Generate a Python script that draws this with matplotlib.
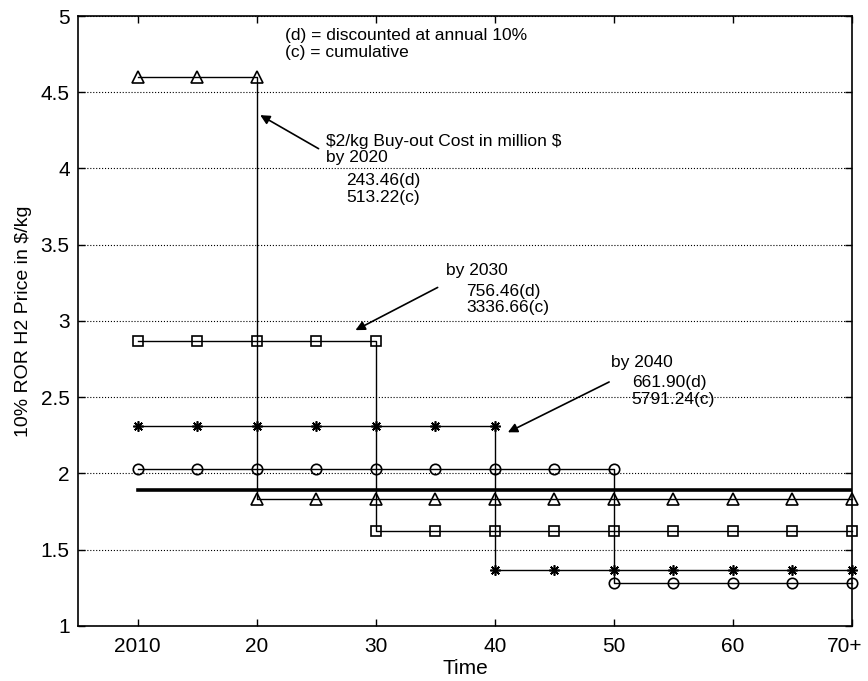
import matplotlib
matplotlib.use("Agg")
import matplotlib.pyplot as plt
import matplotlib.transforms as mtransforms
import numpy as np

plt.rcParams['font.family'] = ['Liberation Sans', 'DejaVu Sans']
plt.rcParams['text.parse_math'] = False

# Data
years = [2010, 2015, 2020, 2025, 2030, 2035, 2040, 2045, 2050, 2055, 2060, 2065, 2070]
buyout_years = [2020, 2030, 2040, 2050]
price_before = [4.60, 2.87, 2.31, 2.03]
price_after = [1.83, 1.62, 1.37, 1.28]
markers = ['^', 's', (8, 2, 0), 'o']
baseline_price = 1.89
xtick_pos = [2010, 2020, 2030, 2040, 2050, 2060, 2070]
xtick_labels = ['2010', '20', '30', '40', '50', '60', '70+']
ytick_pos = [1, 1.5, 2, 2.5, 3, 3.5, 4, 4.5, 5]
ytick_labels = ['1', '1.5', '2', '2.5', '3', '3.5', '4', '4.5', '5']

fig = plt.figure(figsize=(8.68, 6.81), dpi=100)
ax = fig.add_axes([0.0899, 0.0808, 0.8917, 0.8957])

for by, pb, pa, m in zip(buyout_years, price_before, price_after, markers):
    xs = [y for y in years if y <= by] + [y for y in years if y >= by]
    ys = [pb for y in years if y <= by] + [pa for y in years if y >= by]
    ms = {'^': 9, 's': 6.5, 'o': 7.5}.get(m, 7.5) if isinstance(m, str) else 7.5
    ax.plot(xs, ys, color='black', lw=1.0, marker=m, markersize=ms,
            markerfacecolor='none', markeredgecolor='black', markeredgewidth=1.2,
            zorder=3, clip_on=False)

ax.plot([years[0], years[-1]], [baseline_price, baseline_price], color='black', lw=2.6, zorder=2)

ax.set_xlim(2005, 2070)
ax.set_ylim(1, 5)
ax.set_xticks(xtick_pos)
ax.set_xticklabels(xtick_labels)
ax.set_yticks(ytick_pos)
ax.set_yticklabels(ytick_labels)
ax.tick_params(direction='in', top=True, right=True, labelsize=15, length=5, width=1)
ax.tick_params(axis='x', pad=8)
ax.tick_params(axis='y', pad=6)
ax.grid(axis='y', linestyle=':', color='black', lw=0.8)
for s in ax.spines.values():
    s.set_linewidth(1.2)

# keep the last tick label inside the figure (as in the reference)
last = ax.get_xticklabels()[-1]
last.set_transform(last.get_transform() + mtransforms.ScaledTranslation(-7 / 100, 0, fig.dpi_scale_trans))

ax.set_xlabel('Time', fontsize=15, labelpad=2)
ax.set_ylabel('10% ROR H2 Price in $/kg', fontsize=14, labelpad=6)

fs = 12.5
ls = 1.12
ax.text(2022.4, 4.816, '(d) = discounted at annual 10%\n(c) = cumulative', fontsize=fs,
        va='center', ha='left', linespacing=ls)

arrow_kw = dict(arrowstyle='-|>', color='black', lw=1.2, mutation_scale=14,
                shrinkA=0, shrinkB=0)
ax.annotate('', xy=(2020.3, 4.35), xytext=(2025.2, 4.13), arrowprops=arrow_kw)
ax.text(2025.8, 4.125, '$2/kg Buy-out Cost in million $\nby 2020', fontsize=fs,
        va='center', ha='left', linespacing=ls)
ax.text(2027.5, 3.865, '243.46(d)\n513.22(c)', fontsize=fs, va='center', ha='left', linespacing=ls)

ax.annotate('', xy=(2028.3, 2.94), xytext=(2035.2, 3.22), arrowprops=arrow_kw)
ax.text(2035.9, 3.33, 'by 2030', fontsize=fs, va='center', ha='left')
ax.text(2037.6, 3.14, '756.46(d)\n3336.66(c)', fontsize=fs, va='center', ha='left', linespacing=ls)

ax.annotate('', xy=(2041.1, 2.27), xytext=(2049.6, 2.60), arrowprops=arrow_kw)
ax.text(2049.8, 2.73, 'by 2040', fontsize=fs, va='center', ha='left')
ax.text(2051.5, 2.54, '661.90(d)\n5791.24(c)', fontsize=fs, va='center', ha='left', linespacing=ls)

fig.savefig('out.png', dpi=100)
